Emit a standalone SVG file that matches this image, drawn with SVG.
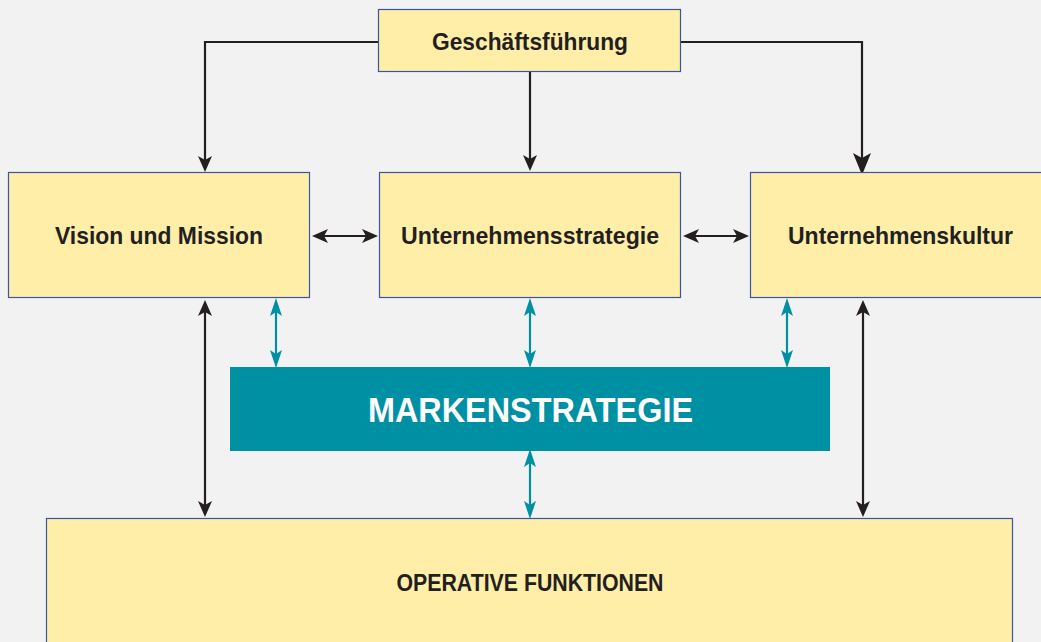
<svg xmlns="http://www.w3.org/2000/svg" width="1041" height="642" viewBox="0 0 1041 642">
<style>
.box{fill:#ffeea8;stroke:#3b55a3;stroke-width:1.2}
.lbl{font-family:"Liberation Sans",Arial,sans-serif;font-weight:bold;font-size:24px;fill:#231f20;text-anchor:middle}
.blk{stroke:#231f20;stroke-width:2.2;fill:none}
.teal{stroke:#0090a4;stroke-width:2.2;fill:none}
</style>
<defs>
<marker id="ab" markerUnits="userSpaceOnUse" markerWidth="16" markerHeight="14" refX="8" refY="7" orient="auto-start-reverse" viewBox="0 0 16 14">
<path d="M0,0 L16,7 L0,14 L4,7 z" fill="#231f20"/>
</marker>
<marker id="abig" markerUnits="userSpaceOnUse" markerWidth="22" markerHeight="18" refX="10" refY="9" orient="auto-start-reverse" viewBox="0 0 22 18">
<path d="M0,0 L22,9 L0,18 L5,9 z" fill="#231f20"/>
</marker>
<marker id="at" markerUnits="userSpaceOnUse" markerWidth="18" markerHeight="12" refX="8" refY="6" orient="auto-start-reverse" viewBox="0 0 18 12">
<path d="M0,0 L18,6 L0,12 L4,6 z" fill="#0090a4"/>
</marker>
</defs>
<rect width="1041" height="642" fill="#f2f2f2"/>
<g id="connectors">
<path class="blk" d="M378,42 H205 V164" marker-end="url(#ab)"/>
<path class="blk" d="M530,72 V163" marker-end="url(#ab)"/>
<path class="blk" d="M681,42 H862 V163" stroke-width="3.2" marker-end="url(#abig)"/>
<path class="blk" d="M320,236 H370" marker-start="url(#ab)" marker-end="url(#ab)"/>
<path class="blk" d="M691,236 H741" marker-start="url(#ab)" marker-end="url(#ab)"/>
<path class="blk" d="M205,308 V509" marker-start="url(#ab)" marker-end="url(#ab)"/>
<path class="blk" d="M863,308 V509" marker-start="url(#ab)" marker-end="url(#ab)"/>
<path class="teal" d="M276,308 V358" marker-start="url(#at)" marker-end="url(#at)"/>
<path class="teal" d="M530,308 V358" marker-start="url(#at)" marker-end="url(#at)"/>
<path class="teal" d="M787,308 V358" marker-start="url(#at)" marker-end="url(#at)"/>
<path class="teal" d="M530,459 V509" marker-start="url(#at)" marker-end="url(#at)"/>
</g>
<g id="geschaeftsfuehrung">
<rect class="box" x="378.5" y="9.5" width="302" height="62"/>
<text class="lbl" x="530" y="50" textLength="196" lengthAdjust="spacingAndGlyphs">Geschäftsführung</text>
</g>
<g id="vision">
<rect class="box" x="8.5" y="172.5" width="301" height="125"/>
<text class="lbl" x="159" y="244" textLength="208" lengthAdjust="spacingAndGlyphs">Vision und Mission</text>
</g>
<g id="strategie">
<rect class="box" x="379.5" y="172.5" width="301" height="125"/>
<text class="lbl" x="530" y="244" textLength="258" lengthAdjust="spacingAndGlyphs">Unternehmensstrategie</text>
</g>
<g id="kultur">
<rect class="box" x="750.5" y="172.5" width="300" height="125"/>
<text class="lbl" x="900.5" y="244" textLength="225" lengthAdjust="spacingAndGlyphs">Unternehmenskultur</text>
</g>
<g id="markenstrategie">
<rect x="230" y="367" width="600" height="84" fill="#0090a4"/>
<text x="530.5" y="422" font-family="Liberation Sans,Arial,sans-serif" font-weight="bold" font-size="35" fill="#ffffff" text-anchor="middle" textLength="325" lengthAdjust="spacingAndGlyphs">MARKENSTRATEGIE</text>
</g>
<g id="operative">
<rect class="box" x="46.5" y="518.5" width="966" height="130"/>
<text class="lbl" x="530" y="591" textLength="267" lengthAdjust="spacingAndGlyphs">OPERATIVE FUNKTIONEN</text>
</g>
</svg>
